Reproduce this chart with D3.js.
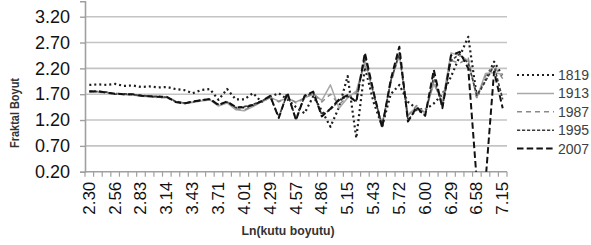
<!DOCTYPE html>
<html>
<head>
<meta charset="utf-8">
<script src="https://cdn.jsdelivr.net/npm/d3@7"></script>
<style>
  html, body { margin: 0; padding: 0; background: #fff; }
  svg { display: block; }
</style>
</head>
<body>
<svg id="chart" width="591" height="245"></svg>
<script>
// ---- data ----
const tickLabels = ["2.30","2.56","2.83","3.14","3.43","3.71","4.01","4.29","4.57","4.86","5.15","5.43","5.72","6.00","6.29","6.58","7.15"];
const labelEvery = 3;
const yTicks = [0.20, 0.70, 1.20, 1.70, 2.20, 2.70, 3.20];
const seriesNames = ["1819", "1913", "1987", "1995", "2007"];

const s1819 = [1.88,1.89,1.88,1.90,1.86,1.87,1.84,1.85,1.83,1.84,1.80,1.78,1.72,1.78,1.80,1.59,1.80,1.60,1.60,1.72,1.55,
  1.65,1.72,1.60,1.45,1.33,1.66,1.38,1.07,1.45,2.05,0.85,2.22,1.55,1.08,1.70,1.88,1.55,1.42,1.40,1.52,1.70,2.04,2.43,2.81,1.65,1.98,2.33,2.05];
const s1913 = [1.74,1.75,1.74,1.71,1.69,1.70,1.66,1.65,1.64,1.63,1.56,1.52,1.54,1.57,1.59,1.47,1.53,1.40,1.38,1.46,1.55,
  1.63,1.57,1.62,1.55,1.63,1.70,1.58,1.88,1.43,1.63,1.76,2.35,1.70,1.10,1.95,2.45,1.30,1.45,1.35,1.90,1.55,2.50,2.45,2.35,1.63,2.10,2.12,2.08];
const s1987 = [1.75,1.74,1.73,1.72,1.70,1.68,1.67,1.66,1.63,1.64,1.57,1.53,1.55,1.58,1.60,1.48,1.55,1.42,1.40,1.47,1.56,
  1.64,1.55,1.65,1.53,1.62,1.72,1.55,1.70,1.50,1.65,1.72,2.30,1.72,1.12,1.90,2.50,1.28,1.48,1.33,1.95,1.52,2.35,2.30,2.40,1.62,2.05,2.25,2.00];
const s1995 = [1.76,1.75,1.74,1.70,1.71,1.69,1.68,1.66,1.66,1.64,1.56,1.53,1.55,1.59,1.60,1.50,1.55,1.44,1.46,1.50,1.57,
  1.65,1.26,1.71,1.22,1.66,1.73,1.30,1.40,1.58,1.66,1.57,2.45,1.72,1.08,1.95,2.50,1.20,1.40,1.30,2.05,1.45,2.35,2.48,2.30,1.68,1.95,2.25,1.60];
const s2007 = [1.75,1.76,1.73,1.71,1.70,1.70,1.67,1.66,1.65,1.65,1.55,1.52,1.56,1.58,1.61,1.49,1.56,1.45,1.44,1.49,1.56,
  1.67,1.24,1.73,1.20,1.67,1.75,1.27,1.42,1.60,1.68,1.55,2.50,1.75,1.05,1.98,2.62,1.17,1.45,1.28,2.17,1.43,2.45,2.52,2.20,0,0,2.14,1.43];

const seriesValues = [s1819, s1913, s1987, s1995, s2007];

// ---- styles ----
const styles = {
  "1819": { stroke: "#1e1e1e", width: 2.2, dash: "2 3" },
  "1913": { stroke: "#a8a8a8", width: 1.5, dash: null },
  "1987": { stroke: "#8a8a8a", width: 1.5, dash: "5 4" },
  "1995": { stroke: "#3a3a3a", width: 1.6, dash: "3.2 1.8" },
  "2007": { stroke: "#111111", width: 2.0, dash: "6.5 3.2" }
};

const svg = d3.select("#chart");
const margin = { left: 85, right: 84, top: 1.2, bottom: 73.3 };
const W = 591, H = 245;
const plotW = W - margin.left - margin.right;   // 422
const plotH = H - margin.top - margin.bottom;

const n = s2007.length;
const x = d3.scaleBand().domain(d3.range(n)).range([margin.left, margin.left + plotW]).padding(0);
const y = d3.scaleLinear().domain([0.2, 3.5]).range([margin.top + plotH, margin.top]);
const cx = i => x(i) + x.bandwidth() / 2;

// gridlines
svg.append("g").selectAll("line").data(yTicks.slice(1)).join("line")
  .attr("x1", margin.left).attr("x2", margin.left + plotW)
  .attr("y1", d => y(d)).attr("y2", d => y(d))
  .attr("stroke", "#c4c4c4").attr("stroke-width", 1.6);

// y axis
const yAxis = d3.axisLeft(y).tickValues(yTicks).tickFormat(d3.format(".2f")).tickSize(5).tickPadding(10);
const gy = svg.append("g").attr("transform", `translate(${margin.left},0)`).call(yAxis);
gy.select(".domain").attr("stroke", "#a0a0a0").attr("stroke-width", 1.6);
gy.selectAll(".tick line").attr("stroke", "#a0a0a0").attr("stroke-width", 1.4);
gy.selectAll(".tick text").attr("font-family", "Liberation Sans, Arial, sans-serif")
  .attr("font-size", 18).attr("fill", "#111");

// x axis: boundary ticks
const bottomY = margin.top + plotH;
svg.append("line").attr("x1", margin.left).attr("x2", margin.left + plotW)
  .attr("y1", bottomY).attr("y2", bottomY).attr("stroke", "#a0a0a0").attr("stroke-width", 1.6);
svg.append("g").selectAll("line").data(d3.range(n + 1)).join("line")
  .attr("x1", d => margin.left + d * x.bandwidth()).attr("x2", d => margin.left + d * x.bandwidth())
  .attr("y1", bottomY).attr("y2", bottomY + 5)
  .attr("stroke", "#a0a0a0").attr("stroke-width", 1.2);

// x labels
svg.append("g").selectAll("text").data(tickLabels).join("text")
  .attr("transform", (d, k) => `translate(${cx(k * labelEvery)},${bottomY + 10}) rotate(-90)`)
  .attr("text-anchor", "end").attr("dominant-baseline", "central")
  .attr("font-family", "Liberation Sans, Arial, sans-serif").attr("font-size", 17).attr("fill", "#111")
  .text(d => d);

// clip
svg.append("clipPath").attr("id", "plotclip").append("rect")
  .attr("x", margin.left).attr("y", margin.top).attr("width", plotW).attr("height", plotH);

const line = d3.line().x((d, i) => cx(i)).y(d => y(d));
const lg = svg.append("g").attr("clip-path", "url(#plotclip)");
seriesNames.forEach((name, si) => {
  const st = styles[name];
  lg.append("path").datum(seriesValues[si])
    .attr("d", line).attr("fill", "none")
    .attr("stroke", st.stroke).attr("stroke-width", st.width)
    .attr("stroke-dasharray", st.dash)
    .attr("stroke-linejoin", "round");
});

// legend
const leg = svg.append("g");
seriesNames.forEach((name, si) => {
  const st = styles[name];
  const ly = 75 + si * 18.4;
  leg.append("line").attr("x1", 517).attr("x2", 554).attr("y1", ly).attr("y2", ly)
    .attr("stroke", st.stroke).attr("stroke-width", st.width).attr("stroke-dasharray", st.dash);
  leg.append("text").attr("x", 558).attr("y", ly).attr("dominant-baseline", "central")
    .attr("font-family", "Liberation Sans, Arial, sans-serif").attr("font-size", 14).attr("fill", "#404040")
    .text(name);
});

// axis titles
svg.append("text").attr("x", 288).attr("y", 235).attr("text-anchor", "middle")
  .attr("font-family", "Liberation Sans, Arial, sans-serif").attr("font-weight", "bold")
  .attr("font-size", 13).attr("fill", "#333")
  .attr("textLength", 93).attr("lengthAdjust", "spacingAndGlyphs")
  .text("Ln(kutu boyutu)");
svg.append("text").attr("transform", "translate(19,113) rotate(-90)").attr("text-anchor", "middle")
  .attr("font-family", "Liberation Sans, Arial, sans-serif").attr("font-weight", "bold")
  .attr("font-size", 12).attr("fill", "#333")
  .attr("textLength", 70).attr("lengthAdjust", "spacingAndGlyphs")
  .text("Fraktal Boyut");
</script>
</body>
</html>
